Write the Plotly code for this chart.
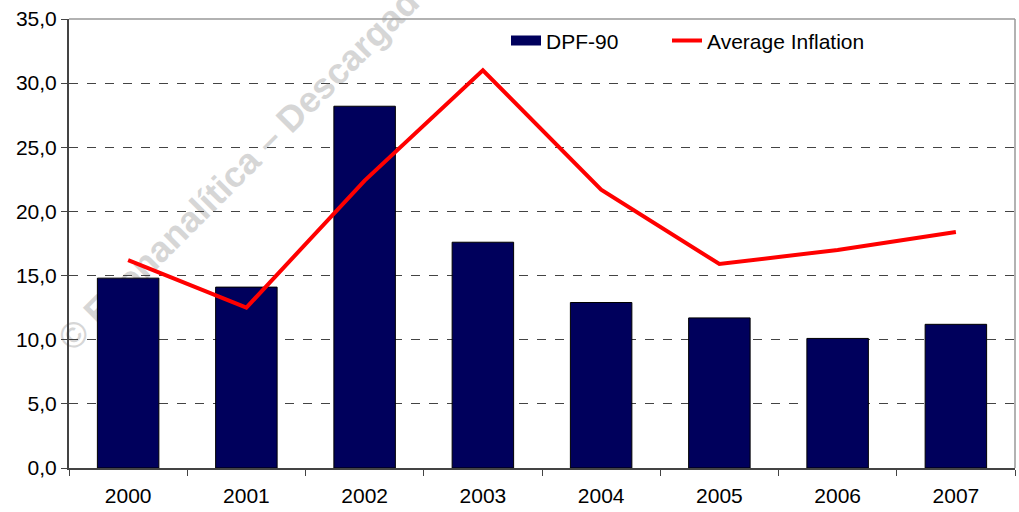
import plotly.graph_objects as go

years = ["2000", "2001", "2002", "2003", "2004", "2005", "2006", "2007"]
dpf90 = [14.8, 14.1, 28.2, 17.6, 12.9, 11.7, 10.1, 11.2]
avg_inflation = [16.2, 12.5, 22.4, 31.0, 21.7, 15.9, 17.0, 18.4]
y_ticks = [0, 5, 10, 15, 20, 25, 30, 35]

FONT = "Arial, Liberation Sans, sans-serif"
BAR_COLOR = "#00005c"
W, H = 1019, 512
L, R, T, B = 69, 4, 19, 44
PW, PH = W - L - R, H - T - B


def px_x(p):
    return (p - L) / PW


def px_y(p):
    return (H - B - p) / PH


fig = go.Figure()
fig.add_trace(go.Bar(
    x=years, y=dpf90, name="DPF-90", showlegend=False, legendgroup="dpf",
    marker=dict(color=BAR_COLOR, line=dict(color="#000000", width=1)),
))
# legend proxy (wide rectangle like the reference legend key)
fig.add_trace(go.Scatter(
    x=[None], y=[None], name="DPF-90", mode="lines", legendgroup="dpf",
    line=dict(color=BAR_COLOR, width=14), legend="legend",
))
fig.add_trace(go.Scatter(
    x=years, y=avg_inflation, name="Average Inflation", mode="lines",
    line=dict(color="#ff0000", width=4), legend="legend2",
))

# watermark, drawn beneath the data as a shape label
cx, cy = 244, 160
fig.add_shape(
    type="rect", xref="paper", yref="paper",
    x0=px_x(cx - 1), x1=px_x(cx + 1), y0=px_y(cy + 1), y1=px_y(cy - 1),
    line=dict(width=0), fillcolor="rgba(0,0,0,0)", layer="below",
    label=dict(text="© Econanalítica – Descargado", textangle=-45,
               textposition="middle center",
               font=dict(family=FONT, size=36, color="#d6d6d6", weight="bold")),
)

# plot frame (top and right)
fig.add_shape(type="line", xref="paper", yref="paper", x0=0, x1=1, y0=1, y1=1,
              line=dict(color="#999999", width=1.5), layer="above")
fig.add_shape(type="line", xref="paper", yref="paper", x0=1, x1=1, y0=0, y1=1,
              line=dict(color="#999999", width=1.5), layer="above")

legend_common = dict(orientation="h", y=0.997, xanchor="left", yanchor="top",
                     bgcolor="rgba(0,0,0,0)", font=dict(size=21))

fig.update_layout(
    width=W, height=H,
    margin=dict(l=L, r=R, t=T, b=B),
    paper_bgcolor="white", plot_bgcolor="white",
    separators=",.",
    font=dict(family=FONT, size=21, color="#000000"),
    bargap=0.48,
    showlegend=True,
    legend=dict(x=px_x(506), **legend_common),
    legend2=dict(x=px_x(667), **legend_common),
    xaxis=dict(
        type="category", showline=True, linecolor="#444444", linewidth=2,
        ticks="outside", tickson="boundaries", ticklen=6, tickcolor="#444444",
        showgrid=False, tickfont=dict(size=21), ticklabelstandoff=8,
    ),
    yaxis=dict(
        range=[0, 35], tickvals=y_ticks, tickformat=".1f",
        showline=True, linecolor="#444444", linewidth=2,
        ticks="outside", ticklen=6, tickcolor="#444444",
        showgrid=True, gridcolor="#444444", griddash="dash", gridwidth=1,
        zeroline=False, tickfont=dict(size=21),
    ),
)

fig.write_html("out.html", config={"displayModeBar": False},
               post_script="document.body.style.margin='0';")
